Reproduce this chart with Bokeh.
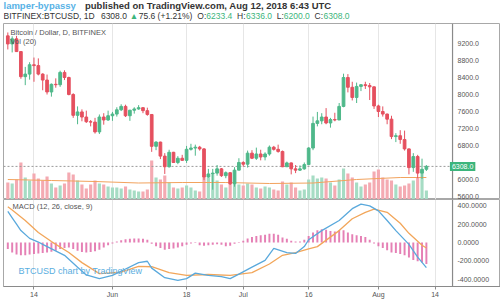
import pandas as pd
from bokeh.plotting import figure
from bokeh.layouts import column
from bokeh.models import (Range1d, FixedTicker, NumeralTickFormatter, Label, Span,
                          ColumnDataSource)
from bokeh.embed import file_html
from bokeh.resources import INLINE

# ---------------- data (BITFINEX:BTCUSD daily) ----------------
start_date = "2018-05-08"
opens = [9380, 9190, 9310, 9010, 8420, 8480, 8700, 8680, 8480, 8340, 8060, 8240, 8230, 8520,
         8400, 8000, 7510, 7590, 7470, 7360, 7350, 7120, 7470, 7400, 7500, 7540, 7640, 7720,
         7500, 7630, 7660, 7690, 7620, 7530, 6780, 6880, 6550, 6300, 6640, 6400, 6500, 6450,
         6710, 6740, 6760, 6720, 6060, 6130, 6150, 6250, 6090, 6160, 5900, 6220, 6400, 6360,
         6620, 6500, 6600, 6530, 6600, 6760, 6710, 6660, 6300, 6390, 6250, 6220, 6250, 6350,
         6740, 7320, 7380, 7470, 7330, 7410, 7400, 7720, 8400, 8170, 7930, 8190, 8230, 8210,
         8180, 7730, 7600, 7540, 7420, 7010, 7030, 6940, 6720, 6280, 6540, 6150, 6240]
highs = [9460, 9370, 9380, 9020, 8650, 8760, 8870, 8850, 8500, 8470, 8260, 8380, 8560, 8570,
         8420, 8030, 7720, 7650, 7620, 7400, 7450, 7530, 7560, 7620, 7590, 7700, 7770, 7760,
         7640, 7700, 7750, 7700, 7690, 7530, 6900, 6890, 6620, 6700, 6650, 6550, 6580, 6790,
         6840, 6820, 6790, 6740, 6250, 6250, 6340, 6270, 6190, 6170, 6290, 6500, 6430, 6680,
         6690, 6750, 6700, 6640, 6800, 6790, 6820, 6680, 6420, 6400, 6340, 6330, 6400, 6760,
         7480, 7590, 7560, 7680, 7450, 7570, 7800, 8490, 8480, 8300, 8280, 8240, 8300, 8270,
         8190, 7760, 7720, 7550, 7500, 7090, 7160, 7150, 6730, 6620, 6580, 6490, 6340]
lows = [9060, 8990, 9000, 8370, 8220, 8350, 8300, 8450, 8100, 8000, 7950, 8160, 8180, 8340,
        7980, 7450, 7300, 7370, 7330, 7250, 7080, 7070, 7290, 7380, 7380, 7480, 7610, 7470,
        7380, 7550, 7640, 7560, 7500, 6650, 6690, 6480, 6130, 6280, 6400, 6360, 6440, 6390,
        6680, 6560, 6680, 5990, 6040, 5760, 6090, 6060, 6030, 5870, 5830, 6220, 6300, 6280,
        6480, 6460, 6450, 6450, 6560, 6680, 6630, 6290, 6300, 6120, 6150, 6200, 6230, 6340,
        6690, 7250, 7300, 7300, 7220, 7370, 7400, 7700, 8050, 7860, 7800, 8080, 8130, 7870,
        7660, 7470, 7480, 7300, 6950, 6880, 6840, 6680, 6120, 6180, 6030, 6010, 6200]
closes = [9190, 9310, 9010, 8420, 8480, 8700, 8680, 8480, 8340, 8060, 8240, 8230, 8520, 8400,
          8000, 7510, 7590, 7470, 7360, 7350, 7120, 7470, 7400, 7500, 7540, 7640, 7720, 7500,
          7630, 7660, 7690, 7620, 7530, 6780, 6880, 6550, 6300, 6640, 6400, 6500, 6450, 6710,
          6740, 6760, 6720, 6060, 6130, 6150, 6250, 6090, 6160, 5900, 6220, 6400, 6360, 6620,
          6500, 6600, 6530, 6600, 6760, 6710, 6660, 6300, 6390, 6250, 6220, 6250, 6350, 6740,
          7320, 7380, 7470, 7330, 7410, 7400, 7720, 8400, 8170, 7930, 8190, 8230, 8210, 8180,
          7730, 7600, 7540, 7420, 7010, 7030, 6940, 6720, 6280, 6540, 6150, 6240, 6308]
volumes = [34, 32, 40, 74, 44, 38, 52, 42, 38, 46, 32, 24, 28, 32, 54, 50, 38, 30, 22, 30,
           38, 32, 30, 26, 24, 24, 22, 26, 20, 18, 16, 16, 20, 78, 44, 40, 48, 34, 24, 22,
           24, 28, 24, 18, 16, 48, 44, 50, 38, 30, 24, 32, 36, 30, 28, 32, 30, 24, 22, 26,
           24, 20, 18, 36, 30, 34, 24, 18, 20, 40, 48, 42, 44, 42, 34, 28, 40, 62, 52, 44,
           34, 26, 30, 34, 56, 60, 44, 40, 38, 30, 26, 28, 32, 38, 44, 58, 18]
vol_ma_dates = ["2018-05-08", "2018-05-18", "2018-05-28", "2018-06-07", "2018-06-17",
                "2018-06-27", "2018-07-07", "2018-07-17", "2018-07-27", "2018-08-06", "2018-08-12"]
vol_ma = [40, 38, 36, 33, 34, 34, 32, 33, 40, 44, 44]

macd_dates = ["2018-05-08", "2018-05-09", "2018-05-10", "2018-05-11", "2018-05-13", "2018-05-15",
              "2018-05-16", "2018-05-21", "2018-05-24", "2018-05-26", "2018-05-29", "2018-06-01",
              "2018-06-04", "2018-06-07", "2018-06-09", "2018-06-10", "2018-06-13", "2018-06-16",
              "2018-06-18", "2018-06-20", "2018-06-23", "2018-06-26", "2018-06-28", "2018-06-30",
              "2018-07-03", "2018-07-06", "2018-07-08", "2018-07-11", "2018-07-13", "2018-07-15",
              "2018-07-16", "2018-07-19", "2018-07-23", "2018-07-26", "2018-07-28", "2018-07-30",
              "2018-08-01", "2018-08-03", "2018-08-05", "2018-08-08", "2018-08-10", "2018-08-12"]
macd_vals = [340, 270, 200, 130, 45, 5, -20, -140, -270, -355, -395, -360,
             -290, -220, -205, -280, -385, -415, -395, -335, -360, -372, -395, -345,
             -270, -195, -65, -110, -120, -45, 30, 130, 240, 370, 420, 400,
             345, 240, 130, -20, -160, -275]
signal_dates = ["2018-05-08", "2018-05-09", "2018-05-12", "2018-05-15", "2018-05-18",
                "2018-05-22", "2018-05-25", "2018-05-29", "2018-06-03", "2018-06-07",
                "2018-06-10", "2018-06-14", "2018-06-18", "2018-06-23", "2018-06-28",
                "2018-07-03", "2018-07-07", "2018-07-10", "2018-07-13", "2018-07-16",
                "2018-07-18", "2018-07-23", "2018-07-26", "2018-07-29", "2018-07-31",
                "2018-08-03", "2018-08-06", "2018-08-08", "2018-08-11", "2018-08-12"]
signal_vals = [390, 355, 240, 110, 10, -110, -220, -340, -325, -260,
               -265, -330, -360, -350, -360, -330, -235, -140, -110, -70,
               -45, 130, 260, 330, 365, 330, 210, 100, -30, -60]
hist_vals = [-70, -110, -130, -140, -140, -130, -125, -120, -115, -110, -100, -90, -70, -60,
             -55, -70, -90, -105, -110, -105, -95, -80, -55, -30, -10, 10, 25, 35, 40, 45,
             45, 40, 30, -15, -40, -60, -80, -70, -65, -55, -40, -25, -10, -5, -30, -35,
             -30, -25, -20, -25, -40, -35, -15, 5, 20, 45, 60, 70, 80, 85, 95, 95, 85, 55,
             40, 20, 10, 10, 30, 70, 110, 135, 145, 140, 125, 120, 135, 135, 110, 90, 80,
             70, 60, 30, -10, -40, -60, -85, -110, -115, -125, -140, -165, -190, -205, -220, -235]

# 6400.0 is hidden behind the last-price tag in the reference
price_ticks = [5600, 6000, 6800, 7200, 7600, 8000, 8400, 8800, 9200]
macd_ticks = [-400, -200, 0, 200, 400]
date_ticks = ["2018-05-14", "2018-06-01", "2018-06-18", "2018-07-01", "2018-07-16",
              "2018-08-01", "2018-08-14"]
date_tick_labels = ["14", "Jun", "18", "Jul", "16", "Aug", "14"]
last_price = 6308.0

# ---------------- derived x positions ----------------
d0 = pd.Timestamp(start_date)
dates = pd.date_range(start_date, periods=len(closes), freq="D")
idx = [int((d - d0).days) for d in dates]
def day(s):
    return int((pd.Timestamp(s) - d0).days)
tick_pos = [day(s) for s in date_ticks]

UP, DOWN = "#4fb88a", "#e5505f"
VUP, VDOWN = "#a6dcc4", "#f4aab2"
colors = [UP if c >= o else DOWN for o, c in zip(opens, closes)]
vcolors = [VUP if c >= o else VDOWN for o, c in zip(opens, closes)]
src = ColumnDataSource(dict(x=idx, o=opens, h=highs, l=lows, c=closes, col=colors,
                            v=volumes, vcol=vcolors, hist=hist_vals))

FONT = "Liberation Sans"
X_START, X_SEP, X_END = -0.99, 102.0, 113.0   # chart area ends at the price-scale separator
xr = Range1d(X_START, X_END)
AXC = "#8a8a8a"

def style(p, ticks, fmt):
    p.outline_line_color = "#a8a8a8"
    p.background_fill_color = "white"
    p.border_fill_color = "white"
    p.ygrid.visible = False
    p.xgrid.grid_line_color = "#e6e6e6"
    p.xgrid.ticker = FixedTicker(ticks=tick_pos)
    ax = p.yaxis[0]
    ax.ticker = FixedTicker(ticks=ticks)
    ax.formatter = NumeralTickFormatter(format=fmt)
    ax.axis_line_color = None
    ax.major_tick_line_color = None
    ax.minor_tick_line_color = None
    ax.major_tick_out = 0
    ax.major_tick_in = 0
    ax.major_label_standoff = -43      # pull the scale labels back over the price-scale strip
    ax.major_label_text_font = FONT
    ax.major_label_text_font_size = "7px"
    ax.major_label_text_color = "#555555"
    p.segment(x0=[X_SEP], y0=[p.y_range.start], x1=[X_SEP], y1=[p.y_range.end],
              line_color=AXC, line_width=1.2)

# ---------------- header strip ----------------
p0 = figure(width=500, height=23, x_range=Range1d(0, 500), y_range=Range1d(0, 23),
            x_axis_location=None, y_axis_location=None, output_backend="svg",
            toolbar_location=None, min_border_left=0, min_border_right=0,
            min_border_top=0, min_border_bottom=0)
p0.outline_line_color = None
p0.xgrid.visible = False
p0.ygrid.visible = False
hdr1 = [(0, "lamper-bypassy", "#57b2e6"),
        (82, "published on TradingView.com, Aug 12, 2018 6:43 UTC", "#333333")]
for hx, t, c in hdr1:
    p0.add_layout(Label(x=hx, y=18, text=t, text_font=FONT, text_font_size="9.5px",
                        text_font_style="bold", text_color=c, text_baseline="middle"))
hdr2 = [(0, "BITFINEX:BTCUSD, 1D", "#333333"), (98, "6308.0", "#333333"),
        (127, "\u25b2", "#3cb57c"), (136, "75.6 (+1.21%)", "#333333"),
        (195, "O:", "#333333"), (204, "6233.4", "#3cb57c"),
        (235, "H:", "#333333"), (244, "6336.0", "#3cb57c"),
        (275, "L:", "#333333"), (282, "6200.0", "#3cb57c"),
        (313, "C:", "#333333"), (322, "6308.0", "#3cb57c")]
for hx, t, c in hdr2:
    p0.add_layout(Label(x=hx, y=8, text=t, text_font=FONT, text_font_size="8.5px",
                        text_color=c, text_baseline="middle"))

# ---------------- price pane ----------------
p1 = figure(width=500, height=176, x_range=xr, y_range=Range1d(5529, 9671),
            y_axis_location="right", x_axis_location=None, output_backend="svg",
            toolbar_location=None, min_border_left=3, min_border_right=0,
            min_border_top=0, min_border_bottom=0)
p1.extra_y_ranges = {"vol": Range1d(0, 352)}

p1.vbar(x="x", top="v", bottom=0, width=0.72, fill_color="vcol", line_color=None,
        y_range_name="vol", source=src)
p1.line([day(s) for s in vol_ma_dates], vol_ma, line_color="#f2a35e", line_width=1,
        y_range_name="vol")
p1.line([X_START, X_SEP], [last_price, last_price], line_color="#9a9a9a",
        line_dash="2 2", line_width=1)
p1.segment(x0="x", y0="h", x1="x", y1="l", line_color="col", line_width=1, source=src)
p1.vbar(x="x", top="o", bottom="c", width=0.62, fill_color="col", line_color="col",
        source=src)
style(p1, price_ticks, "0.0")

p1.add_layout(Label(x=X_SEP - 0.6, y=last_price, text=f"{last_price:.1f}",
                    text_font=FONT, text_font_size="7px", text_color="white",
                    text_baseline="middle", background_fill_color="#3cb57c",
                    padding=2))
p1.add_layout(Label(x=7, y=167, x_units="screen", y_units="screen",
                    text="Bitcoin / Dollar, D, BITFINEX", text_font=FONT,
                    text_font_size="7.5px", text_color="#555555", text_baseline="middle"))
p1.add_layout(Label(x=7, y=158, x_units="screen", y_units="screen", text="Vol (20)",
                    text_font=FONT, text_font_size="7.5px", text_color="#555555",
                    text_baseline="middle"))

# ---------------- MACD pane ----------------
p2 = figure(width=500, height=101, x_range=xr, y_range=Range1d(-481, 470),
            y_axis_location="right", output_backend="svg", toolbar_location=None,
            min_border_left=3, min_border_right=0, min_border_top=0, min_border_bottom=14)
xa = p2.xaxis[0]
xa.ticker = FixedTicker(ticks=tick_pos)
xa.major_label_overrides = {pos: lab for pos, lab in zip(tick_pos, date_tick_labels)}
xa.axis_line_color = AXC
xa.major_tick_line_color = AXC
xa.minor_tick_line_color = None
xa.major_tick_out = 3
xa.major_tick_in = 0
xa.major_label_standoff = 1
xa.major_label_text_font = FONT
xa.major_label_text_font_size = "7px"
xa.major_label_text_color = "#555555"

p2.vbar(x="x", top="hist", bottom=0, width=0.45, fill_color="#e06aa8", line_color=None,
        fill_alpha=0.85, source=src)
p2.line([day(s) for s in signal_dates], signal_vals, line_color="#f2a65a", line_width=1.3)
p2.line([day(s) for s in macd_dates], macd_vals, line_color="#5aa9dc", line_width=1.3)
style(p2, macd_ticks, "0.0000")

p2.add_layout(Label(x=9, y=80, x_units="screen", y_units="screen",
                    text="MACD (12, 26, close, 9)", text_font=FONT, text_font_size="7.5px",
                    text_color="#555555", text_baseline="middle"))
p2.add_layout(Label(x=15, y=16, x_units="screen", y_units="screen",
                    text="BTCUSD chart by TradingView", text_font=FONT, text_font_size="9px",
                    text_color="#5aaee0", text_baseline="middle"))

layout = column(p0, p1, p2, spacing=0)
open("out.html", "w").write(file_html(layout, INLINE))
